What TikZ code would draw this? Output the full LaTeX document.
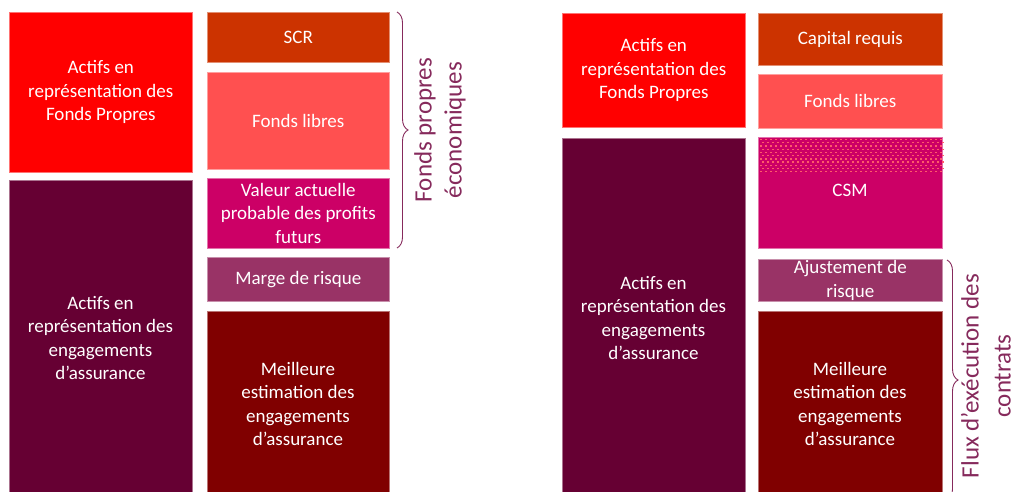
\documentclass[tikz,border=0pt]{standalone}
\usepackage{fontspec}
\setmainfont{Carlito}
\usetikzlibrary{decorations.pathreplacing}
\definecolor{cred}{HTML}{FF0000}
\definecolor{cplum}{HTML}{660033}
\definecolor{cscr}{HTML}{CC3300}
\definecolor{clibre}{HTML}{FF5050}
\definecolor{cvap}{HTML}{CC0066}
\definecolor{cmarge}{HTML}{993366}
\definecolor{cbest}{HTML}{800000}
\definecolor{clabel}{HTML}{862A5C}
\definecolor{cdot}{HTML}{FF5A6A}
\tikzset{
  boxfont/.style={font=\fontsize{19}{23.5}\selectfont},
  box/.style={rectangle, anchor=north west, inner sep=0pt, align=center,
    text=white, boxfont, draw=#1!55!white, line width=0.6pt, fill=#1},
  boxtext/.style={text=white, align=center, boxfont},
  bracelabel/.style={rotate=90, align=center, text=clabel},
  bracestyle/.style={draw=clabel, line width=0.9pt, decorate, decoration={brace, amplitude=11pt}}
}
\begin{document}
\begin{tikzpicture}[x=1pt,y=-1pt]
\useasboundingbox (0,0) rectangle (1017,492);
\clip (0,0) rectangle (1017,492);
% left group
\node[box=cred, minimum width=183pt, minimum height=160pt] (a1) at (9,12) {Actifs en\\représentation des\\Fonds Propres};
\node[box=cplum, minimum width=183pt, minimum height=320pt] (a2) at (9,180) {};
\node[boxtext] (a2t) at (100.5,338) {Actifs en\\représentation des\\engagements\\d’assurance};
\node[box=cscr, minimum width=182pt, minimum height=50pt] (scr) at (207,12) {SCR};
\node[box=clibre, minimum width=182pt, minimum height=97pt] (fl) at (207,72) {Fonds libres};
\node[box=cvap, minimum width=182pt, minimum height=70pt] (vap) at (207,178) {Valeur actuelle\\probable des profits\\futurs};
\node[box=cmarge, minimum width=182pt, minimum height=44pt] (mr) at (207,257) {Marge de risque};
\node[box=cbest, minimum width=182pt, minimum height=200pt] (be) at (207,311) {};
\node[boxtext] (bet) at (298,404) {Meilleure\\estimation des\\engagements\\d’assurance};
\coordinate (lb1) at (397,12);
\coordinate (lb2) at (397,248);
\draw[bracestyle] (lb1) -- (lb2);
\node[bracelabel, font=\fontsize{25}{30}\selectfont] (lbl) at (440,130) {Fonds propres\\économiques};
% right group
\node[box=cred, minimum width=183pt, minimum height=114pt] (r1) at (562,13) {Actifs en\\représentation des\\Fonds Propres};
\node[box=cplum, minimum width=183pt, minimum height=362pt] (r2) at (562,138) {};
\node[boxtext] (r2t) at (653.5,318) {Actifs en\\représentation des\\engagements\\d’assurance};
\node[box=cscr, minimum width=184pt, minimum height=52pt] (cap) at (758,13) {Capital requis};
\node[box=clibre, minimum width=184pt, minimum height=54pt] (rfl) at (758,74) {Fonds libres};
\node[box=cvap, minimum width=184pt, minimum height=111pt] (csm) at (758,137) {};
\foreach \j in {0,...,10}{
  \pgfmathsetmacro{\yy}{139+3.2*\j}
  \pgfmathsetmacro{\off}{mod(\j,2)*2.5}
  \foreach \i in {0,...,36}{
    \fill[cdot] ({759.5+\off+5*\i},\yy) rectangle ++(2.2,1.3);
  }
}
\node[boxtext] (csmt) at (850,190) {CSM};
\node[box=cmarge, minimum width=184pt, minimum height=42pt] (aj) at (758,259) {Ajustement de\\risque};
\node[box=cbest, minimum width=184pt, minimum height=200pt] (rbe) at (758,311) {};
\node[boxtext] (rbet) at (850,404) {Meilleure\\estimation des\\engagements\\d’assurance};
\coordinate (rb1) at (947,260);
\coordinate (rb2) at (947,500);
\draw[bracestyle] (rb1) -- (rb2);
\node[bracelabel, font=\fontsize{25}{32}\selectfont] (rbl) at (986,376) {Flux d’exécution des\\contrats};
\end{tikzpicture}
\end{document}
